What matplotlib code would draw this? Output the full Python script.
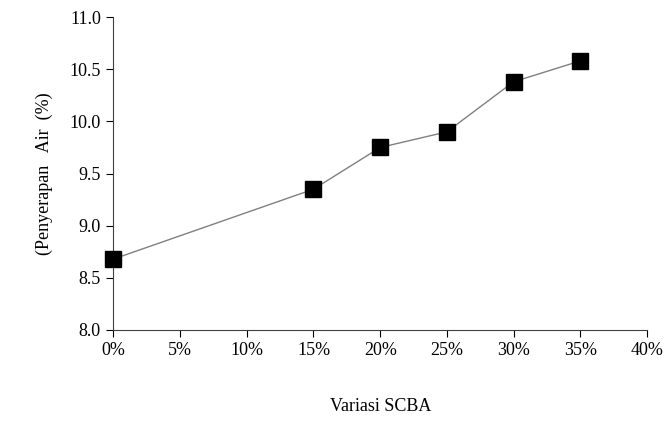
import matplotlib
matplotlib.use("Agg")
import matplotlib.pyplot as plt

variasi = [0, 15, 20, 25, 30, 35]
penyerapan = [8.68, 9.35, 9.75, 9.90, 10.38, 10.58]
x_ticks = [0, 5, 10, 15, 20, 25, 30, 35, 40]
y_ticks = [8.0, 8.5, 9.0, 9.5, 10.0, 10.5, 11.0]

plt.rcParams['font.family'] = ['Liberation Serif']
fig = plt.figure(figsize=(6.67, 4.28), dpi=100)
ax = fig.add_axes([0.17, 0.229, 0.8, 0.731])
ax.plot(variasi, penyerapan, color="#808080", lw=1, marker="s",
        markersize=11, markerfacecolor="black", markeredgecolor="black",
        clip_on=False, zorder=3)
ax.set_xlim(0, 40)
ax.set_ylim(8.0, 11.0)
ax.set_xticks(x_ticks)
ax.set_xticklabels(["{}%".format(i) for i in x_ticks], fontsize=13)
ax.set_yticks(y_ticks)
ax.set_yticklabels(["{:.1f}".format(i) for i in y_ticks], fontsize=13)
ax.tick_params(direction="out", length=5, width=0.8, pad=4)
ax.spines["top"].set_visible(False)
ax.spines["right"].set_visible(False)
ax.spines["left"].set_color("#404040")
ax.spines["bottom"].set_color("#404040")
ax.set_xlabel("Variasi SCBA", fontsize=13, labelpad=28)
ax.set_ylabel("(Penyerapan   Air  (%)", fontsize=13, labelpad=12)
fig.savefig("out.png", dpi=100)
